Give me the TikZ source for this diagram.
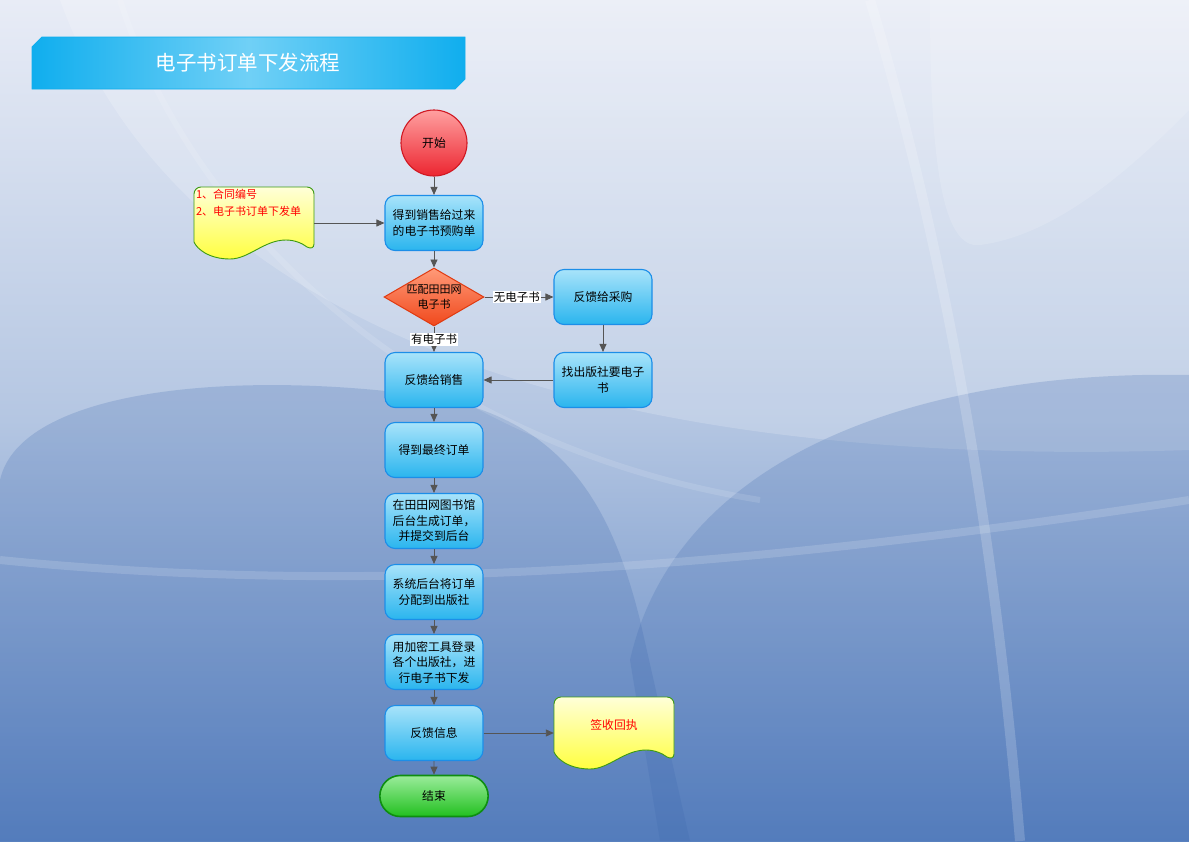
\documentclass[tikz,border=0pt]{standalone}
\usepackage{fontspec}
\setmainfont{Noto Sans CJK SC}
\usetikzlibrary{shapes.geometric,shapes.misc,arrows.meta}
\definecolor{bgtop}{HTML}{E8ECF6}
\definecolor{bgmid}{HTML}{B4C6E2}
\definecolor{bgbot}{HTML}{5A82C0}
\definecolor{bgdeep}{HTML}{3D68AE}
\definecolor{boxtop}{HTML}{A8E3FA}
\definecolor{boxbot}{HTML}{2AB5EE}
\definecolor{boxline}{HTML}{1C8EE8}
\definecolor{balltop}{HTML}{FFA0A0}
\definecolor{ballbot}{HTML}{EC2530}
\definecolor{ballline}{HTML}{D01822}
\definecolor{dmdtop}{HTML}{FF9A78}
\definecolor{dmdbot}{HTML}{F0481C}
\definecolor{dmdline}{HTML}{E03A10}
\definecolor{pilltop}{HTML}{9AEC9A}
\definecolor{pillbot}{HTML}{22C020}
\definecolor{pillline}{HTML}{0E8E10}
\definecolor{doctop}{HTML}{FFFFD8}
\definecolor{docbot}{HTML}{FFFF40}
\definecolor{docline}{HTML}{3C9A12}
\definecolor{bannerside}{HTML}{10AEEE}
\definecolor{bannermid}{HTML}{70D0F6}
\definecolor{flowgray}{HTML}{555555}
\begin{document}
\begin{tikzpicture}[x=1pt,y=-1pt,
    every node/.style={font=\fontsize{11.8}{15.5}\selectfont},
    flowbox/.style={rectangle, rounded corners=10, draw=boxline, line width=1.1pt,
        top color=boxtop, bottom color=boxbot, minimum width=98, minimum height=55,
        align=center, inner sep=2},
    startball/.style={circle, draw=ballline, line width=1.1pt, top color=balltop,
        bottom color=ballbot, minimum size=66, inner sep=0},
    matchdiamond/.style={diamond, draw=dmdline, line width=1pt, top color=dmdtop,
        bottom color=dmdbot, minimum width=100, minimum height=58, inner sep=0},
    endpill/.style={rounded rectangle, draw=pillline, line width=1.6pt, top color=pilltop,
        bottom color=pillbot, minimum width=115, minimum height=41},
    docspot/.style={rectangle, minimum width=120, minimum height=72, inner sep=0},
    flow/.style={draw=flowgray, line width=0.9pt, -{Triangle[length=8pt,width=7pt]}},
    branch/.style={fill=white, inner sep=1, font=\fontsize{11.5}{13}\selectfont},
    docsheet/.pic={
        \shadedraw[top color=doctop, bottom color=docbot, draw=docline, line width=0.9pt]
            (0,55) -- (0,30) [rounded corners=7] -- (0,0) -- (120,0) -- (120,30)
            [sharp corners] -- (120,57) .. controls (120,61) and (117,62) .. (113,60)
            .. controls (108,56) and (100,53) .. (92,53)
            .. controls (70,53) and (55,72) .. (36,72)
            .. controls (15,72) and (3,62) .. (0,55) -- cycle;
    }
    ]
  % background
  \useasboundingbox (0,0) rectangle (1189,841);
  \begin{scope}
    \clip (0,0) rectangle (1189,841);
    \shade[top color=bgtop, bottom color=bgbot, middle color=bgmid] (0,0) rectangle (1189,841);
    \fill[white, opacity=0.18] (60,0) .. controls (180,330) and (600,470) .. (1189,450) -- (1189,0) -- cycle;
    \fill[bgdeep, opacity=0.22] (0,480) .. controls (20,390) and (230,370) .. (420,395)
        .. controls (560,415) and (610,500) .. (640,620) -- (690,841) -- (0,841) -- cycle;
    \fill[bgdeep, opacity=0.22] (630,660) .. controls (680,440) and (950,370) .. (1189,375)
        -- (1189,841) -- (660,841) -- cycle;
    \fill[white, opacity=0.15] (930,0) .. controls (930,150) and (940,250) .. (980,245)
        .. controls (1060,235) and (1140,160) .. (1189,110) -- (1189,0) -- cycle;
    \draw[white, opacity=0.18, line width=10] (870,0) .. controls (960,300) and (1000,600) .. (1020,841);
    \draw[white, opacity=0.15, line width=8] (0,560) .. controls (400,600) and (800,560) .. (1189,500);
    \draw[white, opacity=0.12, line width=6] (120,0) .. controls (200,250) and (450,450) .. (760,500);
  \end{scope}

  % title banner
  \shadedraw[left color=bannerside, right color=bannerside, middle color=bannermid,
      draw=bannerside, line width=0.8pt]
      (42,37) -- (465,37) -- (465,79) -- (455,89) -- (32,89) -- (32,47) -- cycle;
  \node[text=white, font=\fontsize{20.5}{22}\selectfont] (title) at (248,63) {电子书订单下发流程};

  % documents
  \pic at (194,187) {docsheet};
  \node[docspot, label={[anchor=north west, align=left, text=red, inner sep=2,
      font=\fontsize{11}{17}\selectfont]north west:{1、合同编号\\2、电子书订单下发单}}] (order) at (254,223) {};
  \pic at (554,697) {docsheet};
  \node[docspot, label={[text=red, yshift=8pt]center:签收回执}] (receipt) at (614,733) {};

  % flow
  \node[startball] (start) at (434,143) {开始};
  \node[flowbox] (presale) at (434,223) {得到销售给过来\\的电子书预购单};
  \node[matchdiamond, label={[align=center, font=\fontsize{11}{15}\selectfont]center:{匹配田田网\\电子书}}] (match) at (434,297) {};
  \node[flowbox] (tobuyer) at (603,297) {反馈给采购};
  \node[flowbox] (topress) at (603,380) {找出版社要电子\\书};
  \node[flowbox] (tosales) at (434,380) {反馈给销售};
  \node[flowbox] (final) at (434,450) {得到最终订单};
  \node[flowbox] (gen) at (434,521) {在田田网图书馆\\后台生成订单，\\并提交到后台};
  \node[flowbox] (assign) at (434,592) {系统后台将订单\\分配到出版社};
  \node[flowbox] (issue) at (434,662) {用加密工具登录\\各个出版社，进\\行电子书下发};
  \node[flowbox] (feedback) at (434,733) {反馈信息};
  \node[endpill] (end) at (434,796) {结束};

  \draw[flow] (start) -- (presale);
  \draw[flow] (order) -- (presale);
  \draw[flow] (presale) -- (match);
  \draw[flow] (match) -- node[branch, pos=0.47] {无电子书} (tobuyer);
  \draw[flow] (match) -- node[branch] {有电子书} (tosales);
  \draw[flow] (tobuyer) -- (topress);
  \draw[flow] (topress) -- (tosales);
  \draw[flow] (tosales) -- (final);
  \draw[flow] (final) -- (gen);
  \draw[flow] (gen) -- (assign);
  \draw[flow] (assign) -- (issue);
  \draw[flow] (issue) -- (feedback);
  \draw[flow] (feedback) -- (receipt);
  \draw[flow] (feedback) -- (end);
\end{tikzpicture}
\end{document}
